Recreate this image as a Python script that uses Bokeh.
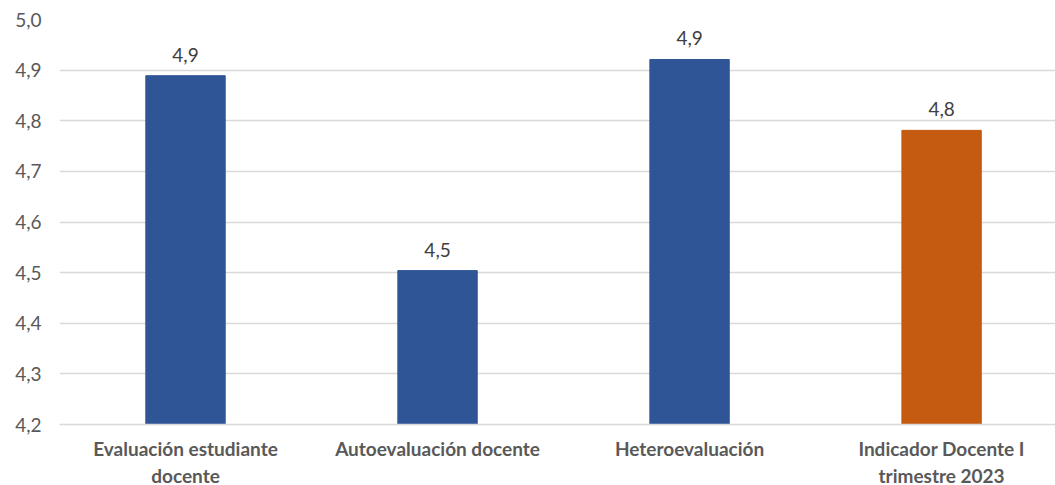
from bokeh.plotting import figure
from bokeh.models import ColumnDataSource, Range1d, FixedTicker, CustomJSTickFormatter, LabelSet
from bokeh.core.properties import value
from bokeh.embed import file_html
from bokeh.resources import INLINE

categories = ["Evaluación estudiante\ndocente", "Autoevaluación docente", "Heteroevaluación", "Indicador Docente I\ntrimestre 2023"]
values = [4.889, 4.504, 4.921, 4.781]
colors = ["#2F5597", "#2F5597", "#2F5597", "#C55A11"]
y_ticks = [4.2, 4.3, 4.4, 4.5, 4.6, 4.7, 4.8, 4.9, 5.0]

xs = list(range(len(categories)))
labels = [f"{v:.1f}".replace(".", ",") for v in values]
src = ColumnDataSource(dict(x=xs, top=values, color=colors, label=labels))

FONT = "Lato"
p = figure(frame_width=996, frame_height=405, output_backend="svg", toolbar_location=None,
           x_range=Range1d(-0.5, 3.452), y_range=Range1d(4.2, 5.0),
           min_border_top=19, min_border_left=59, min_border_right=0, min_border_bottom=61)
p.outline_line_color = None
p.background_fill_color = "white"
p.border_fill_color = "white"

p.vbar(x="x", top="top", bottom=4.2, width=0.315, color="color", source=src)

p.add_layout(LabelSet(x="x", y="top", text="label", source=src, y_offset=14,
                      text_align="center", text_baseline="bottom",
                      text_font=value(FONT), text_font_size="19px", text_color="#404040"))

p.xgrid.grid_line_color = None
p.ygrid.grid_line_color = "#D9D9D9"
p.ygrid.grid_line_width = 1.3

p.yaxis.ticker = FixedTicker(ticks=y_ticks)
p.yaxis.formatter = CustomJSTickFormatter(code="return tick.toFixed(1).replace('.', ',');")
p.yaxis.axis_line_color = None
p.yaxis.major_tick_line_color = None
p.yaxis.minor_tick_line_color = None
p.yaxis.major_tick_out = 0
p.yaxis.major_label_standoff = 18
p.yaxis.major_label_text_font = FONT
p.yaxis.major_label_text_font_size = "19px"
p.yaxis.major_label_text_color = "#595959"

p.xaxis.ticker = FixedTicker(ticks=xs)
p.xaxis.major_label_overrides = {i: c for i, c in enumerate(categories)}
p.xaxis.axis_line_color = "#D9D9D9"
p.xaxis.axis_line_width = 1.3
p.xaxis.major_tick_line_color = None
p.xaxis.minor_tick_line_color = None
p.xaxis.major_tick_out = 0
p.xaxis.major_label_standoff = 12
p.xaxis.major_label_text_font = FONT
p.xaxis.major_label_text_font_size = "19px"
p.xaxis.major_label_text_font_style = "bold"
p.xaxis.major_label_text_color = "#595959"

open("out.html", "w").write(file_html(p, INLINE))
